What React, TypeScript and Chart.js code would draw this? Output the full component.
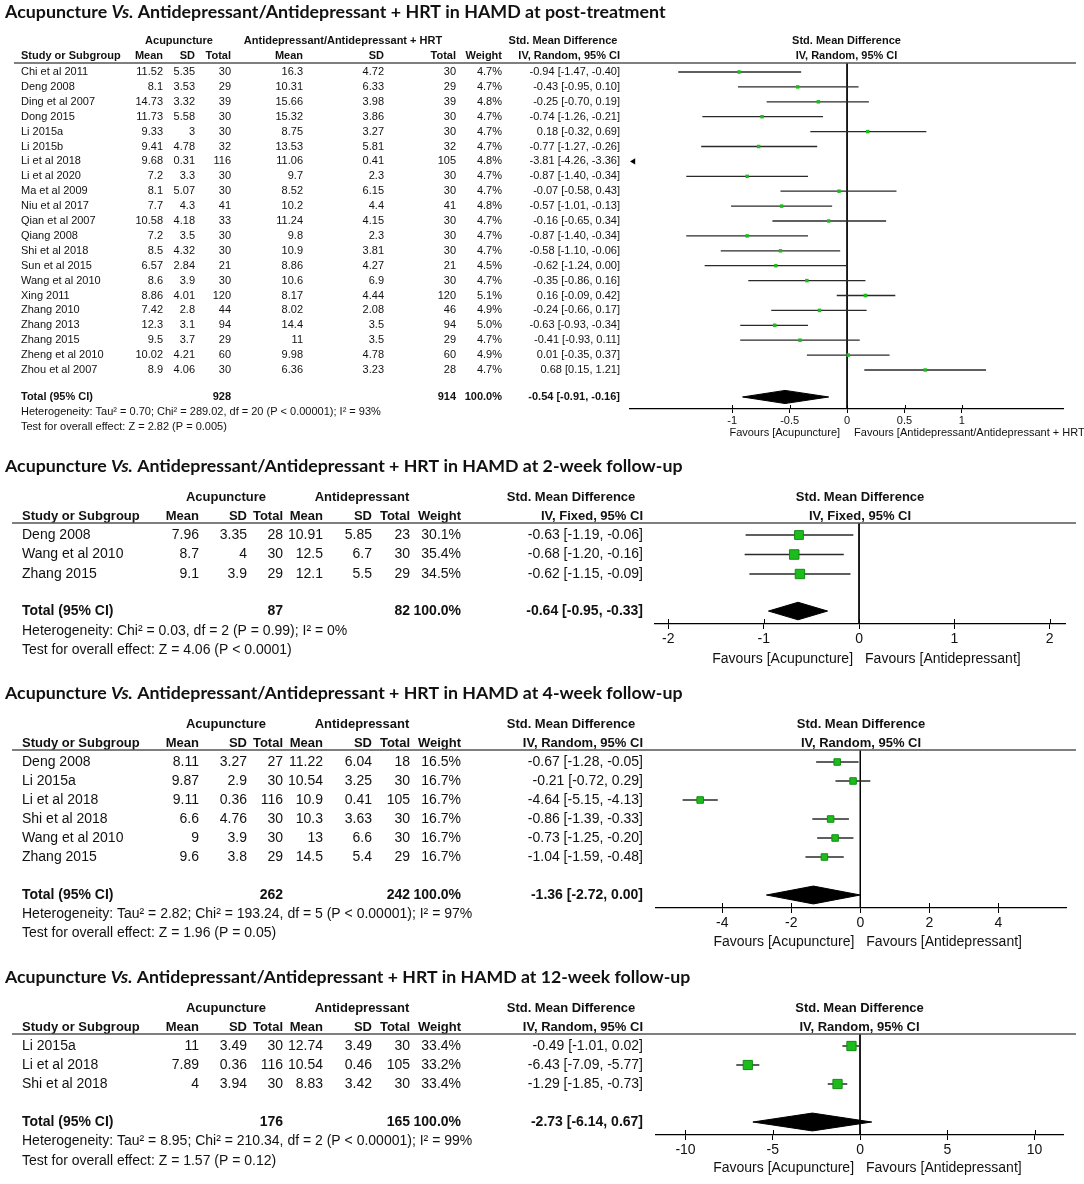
import React, { useEffect, useRef } from "react";
import { Chart, registerables } from "chart.js";
Chart.register(...registerables);

// ---------------- Panel 1: post-treatment ----------------
const p1Studies = ["Chi et al 2011", "Deng 2008", "Ding et al 2007", "Dong 2015", "Li 2015a", "Li 2015b", "Li et al 2018", "Li et al 2020", "Ma et al 2009", "Niu et al 2017", "Qian et al 2007", "Qiang 2008", "Shi et al 2018", "Sun et al 2015", "Wang et al 2010", "Xing 2011", "Zhang 2010", "Zhang 2013", "Zhang 2015", "Zheng et al 2010", "Zhou et al 2007"];
const p1AcuMean = [11.52, 8.1, 14.73, 11.73, 9.33, 9.41, 9.68, 7.2, 8.1, 7.7, 10.58, 7.2, 8.5, 6.57, 8.6, 8.86, 7.42, 12.3, 9.5, 10.02, 8.9];
const p1AcuSD = [5.35, 3.53, 3.32, 5.58, 3, 4.78, 0.31, 3.3, 5.07, 4.3, 4.18, 3.5, 4.32, 2.84, 3.9, 4.01, 2.8, 3.1, 3.7, 4.21, 4.06];
const p1AcuN = [30, 29, 39, 30, 30, 32, 116, 30, 30, 41, 33, 30, 30, 21, 30, 120, 44, 94, 29, 60, 30];
const p1CtlMean = [16.3, 10.31, 15.66, 15.32, 8.75, 13.53, 11.06, 9.7, 8.52, 10.2, 11.24, 9.8, 10.9, 8.86, 10.6, 8.17, 8.02, 14.4, 11, 9.98, 6.36];
const p1CtlSD = [4.72, 6.33, 3.98, 3.86, 3.27, 5.81, 0.41, 2.3, 6.15, 4.4, 4.15, 2.3, 3.81, 4.27, 6.9, 4.44, 2.08, 3.5, 3.5, 4.78, 3.23];
const p1CtlN = [30, 29, 39, 30, 30, 32, 105, 30, 30, 41, 30, 30, 30, 21, 30, 120, 46, 94, 29, 60, 28];
const p1Weight = [4.7, 4.7, 4.8, 4.7, 4.7, 4.7, 4.8, 4.7, 4.7, 4.8, 4.7, 4.7, 4.7, 4.5, 4.7, 5.1, 4.9, 5.0, 4.7, 4.9, 4.7];
const p1Smd = [-0.94, -0.43, -0.25, -0.74, 0.18, -0.77, -3.81, -0.87, -0.07, -0.57, -0.16, -0.87, -0.58, -0.62, -0.35, 0.16, -0.24, -0.63, -0.41, 0.01, 0.68];
const p1Lo = [-1.47, -0.95, -0.7, -1.26, -0.32, -1.27, -4.26, -1.4, -0.58, -1.01, -0.65, -1.4, -1.1, -1.24, -0.86, -0.09, -0.66, -0.93, -0.93, -0.35, 0.15];
const p1Hi = [-0.4, 0.1, 0.19, -0.21, 0.69, -0.26, -3.36, -0.34, 0.43, -0.13, 0.34, -0.34, -0.06, 0.0, 0.16, 0.42, 0.17, -0.34, 0.11, 0.37, 1.21];
const p1TotalN = [928, 914];
const p1TotalEffect = [-0.54, -0.91, -0.16];
const p1Ticks = [-1, -0.5, 0, 0.5, 1];
const p1XRange = [-1.89, 1.88];

// ---------------- Panel 2: 2-week follow-up ----------------
const p2Studies = ["Deng 2008", "Wang et al 2010", "Zhang 2015"];
const p2AcuMean = [7.96, 8.7, 9.1];
const p2AcuSD = [3.35, 4, 3.9];
const p2AcuN = [28, 30, 29];
const p2CtlMean = [10.91, 12.5, 12.1];
const p2CtlSD = [5.85, 6.7, 5.5];
const p2CtlN = [23, 30, 29];
const p2Weight = [30.1, 35.4, 34.5];
const p2Smd = [-0.63, -0.68, -0.62];
const p2Lo = [-1.19, -1.2, -1.15];
const p2Hi = [-0.06, -0.16, -0.09];
const p2TotalN = [87, 82];
const p2TotalEffect = [-0.64, -0.95, -0.33];
const p2Ticks = [-2, -1, 0, 1, 2];
const p2XRange = [-2.14, 2.16];

// ---------------- Panel 3: 4-week follow-up ----------------
const p3Studies = ["Deng 2008", "Li 2015a", "Li et al 2018", "Shi et al 2018", "Wang et al 2010", "Zhang 2015"];
const p3AcuMean = [8.11, 9.87, 9.11, 6.6, 9, 9.6];
const p3AcuSD = [3.27, 2.9, 0.36, 4.76, 3.9, 3.8];
const p3AcuN = [27, 30, 116, 30, 30, 29];
const p3CtlMean = [11.22, 10.54, 10.9, 10.3, 13, 14.5];
const p3CtlSD = [6.04, 3.25, 0.41, 3.63, 6.6, 5.4];
const p3CtlN = [18, 30, 105, 30, 30, 29];
const p3Weight = [16.5, 16.7, 16.7, 16.7, 16.7, 16.7];
const p3Smd = [-0.67, -0.21, -4.64, -0.86, -0.73, -1.04];
const p3Lo = [-1.28, -0.72, -5.15, -1.39, -1.25, -1.59];
const p3Hi = [-0.05, 0.29, -4.13, -0.33, -0.2, -0.48];
const p3TotalN = [262, 242];
const p3TotalEffect = [-1.36, -2.72, 0.0];
const p3Ticks = [-4, -2, 0, 2, 4];
const p3XRange = [-5.92, 5.96];

// ---------------- Panel 4: 12-week follow-up ----------------
const p4Studies = ["Li 2015a", "Li et al 2018", "Shi et al 2018"];
const p4AcuMean = [11, 7.89, 4];
const p4AcuSD = [3.49, 0.36, 3.94];
const p4AcuN = [30, 116, 30];
const p4CtlMean = [12.74, 10.54, 8.83];
const p4CtlSD = [3.49, 0.46, 3.42];
const p4CtlN = [30, 105, 30];
const p4Weight = [33.4, 33.2, 33.4];
const p4Smd = [-0.49, -6.43, -1.29];
const p4Lo = [-1.01, -7.09, -1.85];
const p4Hi = [0.02, -5.77, -0.73];
const p4TotalN = [176, 165];
const p4TotalEffect = [-2.73, -6.14, 0.67];
const p4Ticks = [-10, -5, 0, 5, 10];
const p4XRange = [-11.69, 11.63];

// ---------------- Texts ----------------
const p1Title = "post-treatment";
const p2Title = "2-week follow-up";
const p3Title = "4-week follow-up";
const p4Title = "12-week follow-up";
const p1Hetero = "Heterogeneity: Tau² = 0.70; Chi² = 289.02, df = 20 (P < 0.00001); I² = 93%";
const p2Hetero = "Heterogeneity: Chi² = 0.03, df = 2 (P = 0.99); I² = 0%";
const p3Hetero = "Heterogeneity: Tau² = 2.82; Chi² = 193.24, df = 5 (P < 0.00001); I² = 97%";
const p4Hetero = "Heterogeneity: Tau² = 8.95; Chi² = 210.34, df = 2 (P < 0.00001); I² = 99%";
const p1Overall = "Test for overall effect: Z = 2.82 (P = 0.005)";
const p2Overall = "Test for overall effect: Z = 4.06 (P < 0.0001)";
const p3Overall = "Test for overall effect: Z = 1.96 (P = 0.05)";
const p4Overall = "Test for overall effect: Z = 1.57 (P = 0.12)";

const FONT = '"Liberation Sans", Arial, sans-serif';
const TITLE_FONT = 'Lato, "Open Sans", sans-serif';
const AXIS_H = 30;

interface Layout {
  top: number; height: number; titleY: number; titleW: number;
  h1Y: number; h2Y: number; lineY: number; row0: number; step: number; totalRow: number;
  heteroY: number; testY: number; axisY: number; favY: number; axisL: number; axisR: number;
  hSize: number; bSize: number; tickSize: number; studyX: number; cols: number[]; h1X: number[];
  diamondH: number; ciW: number; tickLen: number; tickPad: number; lineX: number[]; favGap: number;
}

interface Panel {
  title: string; ctlLabel: string; method: string; favRight: string;
  studies: string[]; acuMean: number[]; acuSD: number[]; acuN: number[];
  ctlMean: number[]; ctlSD: number[]; ctlN: number[]; weight: number[];
  smd: number[]; lo: number[]; hi: number[]; totalN: number[]; totalEffect: number[];
  hetero: string; overall: string; ticks: number[]; xRange: number[]; L: Layout;
}

const colsSmall = [163, 195, 231, 303, 384, 456, 502, 620];
const colsBig = [199, 247, 283, 323, 372, 410, 461, 643];

const panels: Panel[] = [
  {
    title: p1Title, ctlLabel: "Antidepressant/Antidepressant + HRT", method: "IV, Random, 95% CI",
    favRight: "Favours [Antidepressant/Antidepressant + HRT]",
    studies: p1Studies, acuMean: p1AcuMean, acuSD: p1AcuSD, acuN: p1AcuN, ctlMean: p1CtlMean, ctlSD: p1CtlSD, ctlN: p1CtlN,
    weight: p1Weight, smd: p1Smd, lo: p1Lo, hi: p1Hi, totalN: p1TotalN, totalEffect: p1TotalEffect,
    hetero: p1Hetero, overall: p1Overall, ticks: p1Ticks, xRange: p1XRange,
    L: { top: 0, height: 445, titleY: 12, titleW: 661, h1Y: 41, h2Y: 56, lineY: 63, row0: 72, step: 14.9, totalRow: 21.81,
      heteroY: 412, testY: 427, axisY: 409, favY: 433, axisL: 630, axisR: 1063, hSize: 11, bSize: 11, tickSize: 11,
      studyX: 21, cols: colsSmall, h1X: [179, 343, 563], diamondH: 0.44, ciW: 1.3, tickLen: 4, tickPad: 1, lineX: [14, 1076], favGap: 7 },
  },
  {
    title: p2Title, ctlLabel: "Antidepressant", method: "IV, Fixed, 95% CI", favRight: "Favours [Antidepressant]",
    studies: p2Studies, acuMean: p2AcuMean, acuSD: p2AcuSD, acuN: p2AcuN, ctlMean: p2CtlMean, ctlSD: p2CtlSD, ctlN: p2CtlN,
    weight: p2Weight, smd: p2Smd, lo: p2Lo, hi: p2Hi, totalN: p2TotalN, totalEffect: p2TotalEffect,
    hetero: p2Hetero, overall: p2Overall, ticks: p2Ticks, xRange: p2XRange,
    L: { top: 445, height: 235, titleY: 466, titleW: 678, h1Y: 497, h2Y: 516, lineY: 523, row0: 535, step: 19.5, totalRow: 3.9,
      heteroY: 631, testY: 650, axisY: 624, favY: 659, axisL: 655, axisR: 1065, hSize: 13, bSize: 14, tickSize: 14,
      studyX: 22, cols: colsBig, h1X: [226, 362, 571], diamondH: 0.45, ciW: 1.5, tickLen: 5, tickPad: 2, lineX: [12, 1076], favGap: 6 },
  },
  {
    title: p3Title, ctlLabel: "Antidepressant", method: "IV, Random, 95% CI", favRight: "Favours [Antidepressant]",
    studies: p3Studies, acuMean: p3AcuMean, acuSD: p3AcuSD, acuN: p3AcuN, ctlMean: p3CtlMean, ctlSD: p3CtlSD, ctlN: p3CtlN,
    weight: p3Weight, smd: p3Smd, lo: p3Lo, hi: p3Hi, totalN: p3TotalN, totalEffect: p3TotalEffect,
    hetero: p3Hetero, overall: p3Overall, ticks: p3Ticks, xRange: p3XRange,
    L: { top: 680, height: 275, titleY: 693, titleW: 678, h1Y: 724, h2Y: 743, lineY: 750, row0: 762, step: 19, totalRow: 7,
      heteroY: 914, testY: 933, axisY: 908, favY: 942, axisL: 656, axisR: 1066, hSize: 13, bSize: 14, tickSize: 14,
      studyX: 22, cols: colsBig, h1X: [226, 362, 571], diamondH: 0.47, ciW: 1.5, tickLen: 5, tickPad: 2, lineX: [12, 1076], favGap: 6 },
  },
  {
    title: p4Title, ctlLabel: "Antidepressant", method: "IV, Random, 95% CI", favRight: "Favours [Antidepressant]",
    studies: p4Studies, acuMean: p4AcuMean, acuSD: p4AcuSD, acuN: p4AcuN, ctlMean: p4CtlMean, ctlSD: p4CtlSD, ctlN: p4CtlN,
    weight: p4Weight, smd: p4Smd, lo: p4Lo, hi: p4Hi, totalN: p4TotalN, totalEffect: p4TotalEffect,
    hetero: p4Hetero, overall: p4Overall, ticks: p4Ticks, xRange: p4XRange,
    L: { top: 955, height: 229, titleY: 977, titleW: 686, h1Y: 1008, h2Y: 1027, lineY: 1034, row0: 1046, step: 19, totalRow: 4,
      heteroY: 1141, testY: 1161, axisY: 1135, favY: 1168, axisL: 656, axisR: 1063, hSize: 13, bSize: 14, tickSize: 14,
      studyX: 22, cols: colsBig, h1X: [226, 362, 571], diamondH: 0.47, ciW: 1.5, tickLen: 5, tickPad: 2, lineX: [12, 1076], favGap: 6 },
  },
];

const f2 = (v: number) => v.toFixed(2);
const ciText = (e: number, lo: number, hi: number) => `${f2(e)} [${f2(lo)}, ${f2(hi)}]`;

function txt(ctx: CanvasRenderingContext2D, s: string, x: number, y: number, align: CanvasTextAlign, font: string) {
  ctx.font = font;
  ctx.textAlign = align;
  ctx.textBaseline = "middle";
  ctx.fillText(s, x, y);
}

function makeTablePlugin(p: Panel) {
  return {
    id: "forestTable",
    afterDraw(chart: any) {
      const ctx: CanvasRenderingContext2D = chart.ctx;
      const L = p.L;
      const off = L.top;
      const ys = chart.scales.y;
      const xs = chart.scales.x;
      const rowY = (v: number) => ys.getPixelForValue(v);
      const bold = `bold ${L.hSize}px ${FONT}`;
      const boldB = `bold ${L.bSize}px ${FONT}`;
      const reg = `${L.bSize}px ${FONT}`;
      ctx.save();
      ctx.fillStyle = "#111";

      // title (fit to measured width)
      const segs: [string, string][] = [
        ["Acupuncture ", "bold"],
        ["Vs.", "italic bold"],
        [" Antidepressant/Antidepressant + HRT in HAMD at " + p.title, "bold"],
      ];
      let w = 0;
      segs.forEach(([t, s]) => { ctx.font = `${s} 20px ${TITLE_FONT}`; w += ctx.measureText(t).width; });
      const size = (20 * L.titleW) / w;
      let tx = 5;
      segs.forEach(([t, s]) => {
        const f = `${s} ${size}px ${TITLE_FONT}`;
        txt(ctx, t, tx, L.titleY - off, "left", f);
        tx += ctx.measureText(t).width;
      });

      // header row 1
      txt(ctx, "Acupuncture", L.h1X[0], L.h1Y - off, "center", bold);
      txt(ctx, p.ctlLabel, L.h1X[1], L.h1Y - off, "center", bold);
      txt(ctx, "Std. Mean Difference", L.h1X[2], L.h1Y - off, "center", bold);
      const plotC = (chart.chartArea.left + chart.chartArea.right) / 2;
      txt(ctx, "Std. Mean Difference", plotC, L.h1Y - off, "center", bold);

      // header row 2
      txt(ctx, "Study or Subgroup", L.studyX, L.h2Y - off, "left", bold);
      const h2 = ["Mean", "SD", "Total", "Mean", "SD", "Total", "Weight", p.method];
      h2.forEach((s, i) => txt(ctx, s, L.cols[i], L.h2Y - off, "right", bold));
      txt(ctx, p.method, plotC, L.h2Y - off, "center", bold);

      // header line
      ctx.strokeStyle = "#555";
      ctx.lineWidth = 1.5;
      ctx.beginPath();
      ctx.moveTo(L.lineX[0], L.lineY - off);
      ctx.lineTo(L.lineX[1], L.lineY - off);
      ctx.stroke();

      // study rows
      p.studies.forEach((s, i) => {
        const y = rowY(i);
        txt(ctx, s, L.studyX, y, "left", reg);
        const vals = [String(p.acuMean[i]), String(p.acuSD[i]), String(p.acuN[i]), String(p.ctlMean[i]), String(p.ctlSD[i]), String(p.ctlN[i]),
          p.weight[i].toFixed(1) + "%", ciText(p.smd[i], p.lo[i], p.hi[i])];
        vals.forEach((v, k) => txt(ctx, v, L.cols[k], y, "right", reg));
      });

      // total row
      const ty = rowY(L.totalRow);
      txt(ctx, "Total (95% CI)", L.studyX, ty, "left", boldB);
      txt(ctx, String(p.totalN[0]), L.cols[2], ty, "right", boldB);
      txt(ctx, String(p.totalN[1]), L.cols[5], ty, "right", boldB);
      txt(ctx, "100.0%", L.cols[6], ty, "right", boldB);
      txt(ctx, ciText(p.totalEffect[0], p.totalEffect[1], p.totalEffect[2]), L.cols[7], ty, "right", boldB);

      txt(ctx, p.hetero, L.studyX, L.heteroY - off, "left", reg);
      txt(ctx, p.overall, L.studyX, L.testY - off, "left", reg);

      // upward half of tick marks
      ctx.strokeStyle = "#000";
      ctx.lineWidth = 1;
      const ab = chart.chartArea.bottom;
      p.ticks.forEach((t) => {
        const x = Math.round(xs.getPixelForValue(t)) + 0.5;
        ctx.beginPath();
        ctx.moveTo(x, ab);
        ctx.lineTo(x, ab - L.tickLen);
        ctx.stroke();
      });

      // favours labels
      const zx = xs.getPixelForValue(0);
      const fav = `${L.tickSize}px ${FONT}`;
      txt(ctx, "Favours [Acupuncture]", zx - L.favGap, L.favY - off, "right", fav);
      txt(ctx, p.favRight, zx + L.favGap, L.favY - off, "left", fav);
      ctx.restore();
    },
  };
}

function buildConfig(p: Panel): any {
  const L = p.L;
  const yMin = (L.lineY - L.row0) / L.step;
  const yMax = (L.axisY - L.row0) / L.step;
  const [xMin, xMax] = p.xRange;
  const datasets: any[] = [];
  datasets.push({
    type: "line", data: [{ x: 0, y: yMin }, { x: 0, y: yMax }],
    borderColor: "#000", borderWidth: 1, pointRadius: 0, fill: false, order: 10,
  });
  p.studies.forEach((_, i) => {
    datasets.push({
      type: "line", data: [{ x: p.lo[i], y: i }, { x: p.hi[i], y: i }],
      borderColor: "#2a2a2a", borderWidth: L.ciW, pointRadius: 0, fill: false, order: 5,
    });
  });
  datasets.push({
    type: "scatter", data: p.studies.map((_, i) => ({ x: p.smd[i], y: i })),
    pointStyle: "rect", pointRadius: p.weight.map((w) => 1.13 * Math.sqrt(w)),
    backgroundColor: "#1cbc1c", borderColor: "#128c12", borderWidth: L.hSize > 11 ? 1 : 0, order: 1,
  });
  const [te, tlo, thi] = p.totalEffect;
  const tr = L.totalRow;
  datasets.push({
    type: "line",
    data: [{ x: tlo, y: tr }, { x: te, y: tr - L.diamondH }, { x: thi, y: tr }, { x: te, y: tr + L.diamondH }, { x: tlo, y: tr }],
    borderColor: "#000", backgroundColor: "#000", borderWidth: 1, pointRadius: 0, fill: "shape", tension: 0, order: 1,
  });
  const off = p.studies.map((_, i) => i).filter((i) => p.hi[i] < xMin);
  if (off.length) {
    datasets.push({
      type: "scatter", data: off.map((i) => ({ x: xMin + (xMax - xMin) * 0.008, y: i })),
      pointStyle: "triangle", rotation: -90, pointRadius: 3.5, backgroundColor: "#000", borderColor: "#000", borderWidth: 0, order: 1,
    });
  }

  return {
    type: "scatter",
    data: { datasets },
    options: {
      responsive: false,
      animation: false,
      devicePixelRatio: 1,
      events: [],
      layout: {
        padding: {
          top: L.lineY - L.top,
          left: L.axisL,
          right: 1084 - L.axisR,
          bottom: L.height - (L.axisY - L.top) - AXIS_H,
        },
      },
      plugins: { legend: { display: false }, tooltip: { enabled: false }, title: { display: false } },
      scales: {
        x: {
          type: "linear", position: "bottom", min: xMin, max: xMax, bounds: "data",
          afterBuildTicks: (s: any) => { s.ticks = p.ticks.map((v) => ({ value: v })); },
          afterFit: (s: any) => { s.height = AXIS_H; },
          grid: { display: true, drawOnChartArea: false, drawTicks: true, tickLength: L.tickLen, color: "#000", lineWidth: 1 },
          border: { display: true, color: "#000", width: 1.3 },
          ticks: {
            color: "#111", font: { family: FONT, size: L.tickSize }, padding: L.tickPad,
            autoSkip: false, maxRotation: 0, callback: (v: any) => String(v),
          },
        },
        y: { type: "linear", display: false, reverse: true, min: yMin, max: yMax },
      },
    },
    plugins: [makeTablePlugin(p)],
  };
}

function PanelChart({ panel }: { panel: Panel }) {
  const ref = useRef<HTMLCanvasElement>(null);
  useEffect(() => {
    const chart = new Chart(ref.current as HTMLCanvasElement, buildConfig(panel));
    return () => chart.destroy();
  }, [panel]);
  return (
    <canvas
      ref={ref}
      width={1084}
      height={panel.L.height}
      style={{ position: "absolute", left: 0, top: panel.L.top, width: 1084, height: panel.L.height }}
    />
  );
}

export default function App() {
  return (
    <div style={{ position: "absolute", left: 0, top: 0, width: 1084, height: 1184, background: "#fff", overflow: "hidden" }}>
      {panels.map((p, i) => (
        <PanelChart key={i} panel={p} />
      ))}
    </div>
  );
}
